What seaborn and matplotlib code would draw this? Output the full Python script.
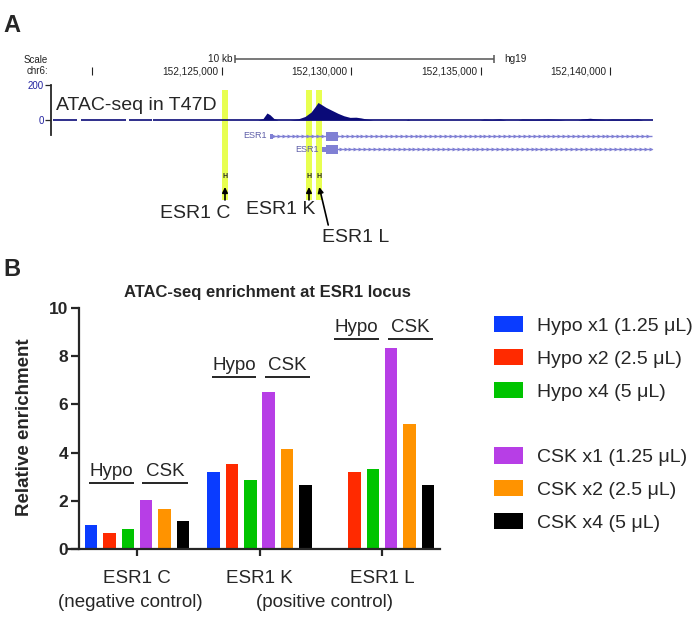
import numpy as np
import pandas as pd
import matplotlib
matplotlib.use("Agg")
import matplotlib.pyplot as plt
import seaborn as sns
from matplotlib.lines import Line2D

# ---------------- panel B data ----------------
sites = ["ESR1 C", "ESR1 K", "ESR1 L"]
conditions = ["Hypo x1 (1.25 \u03bcL)", "Hypo x2 (2.5 \u03bcL)", "Hypo x4 (5 \u03bcL)",
              "CSK x1 (1.25 \u03bcL)", "CSK x2 (2.5 \u03bcL)", "CSK x4 (5 \u03bcL)"]
hypo_x1 = [1.01, 3.18, 0.0]
hypo_x2 = [0.66, 3.53, 3.18]
hypo_x4 = [0.83, 2.85, 3.33]
csk_x1 = [2.02, 6.51, 8.34]
csk_x2 = [1.67, 4.16, 5.19]
csk_x4 = [1.18, 2.67, 2.67]
colors = ["#0a3cff", "#ff2a00", "#00c400", "#b73ee6", "#ff9300", "#000000"]
bracket_y = [2.74, 7.14, 8.71]
control_labels = ["(negative control)", "(positive control)"]

# ---------------- panel A data ----------------
chrom_ticks = [152120000, 152125000, 152130000, 152135000, 152140000]
chrom_tick_labels = ["", "152,125,000", "152,130,000", "152,135,000", "152,140,000"]
scale_start = 152125500
scale_len = 10000
atac_pos = [152126390, 152126583, 152126737, 152126853, 152127008, 152127162,
            152127625, 152127934, 152128205, 152128436, 152128591, 152128707,
            152128822, 152129015, 152129247, 152129479, 152129710, 152129942,
            152130173, 152130366, 152130560, 152130830,
            152132100, 152132180, 152132260,
            152134961, 152135116, 152135425, 152135734, 152135965,
            152136429, 152136583, 152137085, 152137587, 152138050, 152138243,
            152138745, 152138900, 152139208, 152139478, 152139826, 152140058,
            152140560, 152141062, 152141255]
atac_val = [0, 8, 40, 30, 8, 0,
            0, 6, 20, 45, 75, 100,
            90, 72, 55, 38, 24, 15,
            16, 12, 6, 0,
            0, 4, 0,
            0, 5, 3, 6, 0,
            0, 5, 4, 6, 3, 0,
            0, 6, 10, 6, 2, 5,
            4, 6, 0]
covered_start = [152118475, 152119556, 152121409, 152122336]
covered_end = [152119402, 152121293, 152122297, 152141641]
site_names = ["ESR1 C", "ESR1 K", "ESR1 L"]
site_start = [152125000, 152128243, 152128629]
site_end = [152125232, 152128475, 152128880]
gene_names = ["ESR1", "ESR1"]
tx_start = [152126853, 152128861]
tx_end = [152141600, 152141600]
utr_start = [152126853, 152128861]
utr_end = [152126970, 152129015]
cds_start = [152129015, 152129015]
cds_end = [152129479, 152129479]

W, H = 697, 624
sns.set_style("ticks")
plt.rcParams["font.family"] = ["Liberation Sans", "DejaVu Sans"]
fig = plt.figure(figsize=(W / 100, H / 100), dpi=100)

# genome axes: x = genomic position, y = pixel rows of the top panel
view_lo, view_hi = 152116429, 152143340
def gx(px):
    return view_lo + px / W * (view_hi - view_lo)

axg = fig.add_axes([0, 1 - 250 / H, 1, 250 / H])
axg.set_xlim(view_lo, view_hi)
axg.set_ylim(250, 0)
axg.axis("off")

fig.text(3 / W, 1 - 32 / H, "A", fontsize=17, fontweight="bold", va="baseline")
fig.text(48 / W, 1 - 60 / H, "Scale", fontsize=7, ha="right", va="center", color="#222222")
fig.text(48 / W, 1 - 71 / H, "chr6:", fontsize=7, ha="right", va="center", color="#222222")

axg.vlines(chrom_ticks, 67, 75, color="#222222", lw=0.8)
for t, lab in zip(chrom_ticks, chrom_tick_labels):
    axg.annotate(lab, (t, 71), xytext=(-4, 0), textcoords="offset pixels",
                 ha="right", va="center", fontsize=7.2, color="#222222")

scale_end = scale_start + scale_len
axg.hlines(59, scale_start, scale_end, color="#555555", lw=1.1)
axg.vlines([scale_start, scale_end], 55, 63, color="#555555", lw=1.1)
axg.annotate("10 kb", (scale_start, 59), xytext=(-2, 0), textcoords="offset pixels",
             ha="right", va="center", fontsize=7.2, color="#222222")
axg.annotate("hg19", (scale_end, 59), xytext=(10, 0), textcoords="offset pixels",
             ha="left", va="center", fontsize=7.2, color="#222222")

# highlighted sites
for s, e in zip(site_start, site_end):
    axg.bar(x=s, height=110, width=e - s, bottom=90, align="edge", color="#e8ff50", lw=0, zorder=1)
    c = (s + e) / 2
    axg.text(c, 176, "H", ha="center", va="center", fontsize=5, fontweight="bold", zorder=3)

cen = [(s + e) / 2 for s, e in zip(site_start, site_end)]
arrow = dict(arrowstyle="-|>", lw=1.2, color="black", mutation_scale=8, shrinkA=0, shrinkB=0)
axg.annotate("", xy=(cen[0], 187), xytext=(0, -13), textcoords="offset pixels", arrowprops=arrow)
axg.annotate("", xy=(cen[1], 187), xytext=(0, -13), textcoords="offset pixels", arrowprops=arrow)
axg.annotate("", xy=(cen[2], 187), xytext=(9, -38), textcoords="offset pixels", arrowprops=arrow)
axg.annotate(site_names[0], (cen[0], 214), xytext=(5, 0), textcoords="offset pixels",
             ha="right", va="center", fontsize=14)
axg.annotate(site_names[1], (cen[1], 210), xytext=(6, 0), textcoords="offset pixels",
             ha="right", va="center", fontsize=14)
axg.annotate(site_names[2], (cen[2], 238), xytext=(3, 0), textcoords="offset pixels",
             ha="left", va="center", fontsize=14)

# gene models
gene_col = "#8080d4"
for i, y in enumerate([136, 149]):
    axg.hlines(y, tx_start[i], tx_end[i], color=gene_col, lw=1, zorder=2)
    chev = np.arange(tx_start[i] + 150, tx_end[i], 190)
    axg.plot(chev, np.full(len(chev), y), ">", ms=2.8, color=gene_col, mew=0, zorder=2)
    axg.bar(x=utr_start[i], height=5, width=utr_end[i] - utr_start[i], bottom=y - 2.5,
            align="edge", color=gene_col, lw=0, zorder=3)
    axg.bar(x=cds_start[i], height=9, width=cds_end[i] - cds_start[i], bottom=y - 4.5,
            align="edge", color=gene_col, lw=0, zorder=3)
    axg.annotate(gene_names[i], (tx_start[i], y), xytext=(-3, 0), textcoords="offset pixels",
                 ha="right", va="center", fontsize=6.5, color="#5e5ea8")

# ATAC signal track
axs = fig.add_axes([51 / W, 1 - 120 / H, (653 - 51) / W, 35 / H])
axs.patch.set_alpha(0)
axs.set_xlim(gx(51), gx(653))
axs.set_ylim(0, 200)
axs.fill_between(atac_pos, 0, atac_val, color="#0a0a78", lw=0)
axs.hlines([0] * len(covered_start), covered_start, covered_end, color="#0a0a78",
           lw=1.2, clip_on=False)
for sp in ["top", "right", "bottom"]:
    axs.spines[sp].set_visible(False)
axs.spines["left"].set_bounds(-86, 200)
axs.spines["left"].set_linewidth(1.3)
axs.set_xticks([])
axs.set_yticks([0, 200])
axs.tick_params(axis="y", length=4.3, width=0.9, pad=1, labelsize=7, labelcolor="#2222a0")
fig.text(56 / W, 1 - 105 / H, "ATAC-seq in T47D", fontsize=14, va="center")

# ---------------- panel B ----------------
df = pd.DataFrame({"site": sites, conditions[0]: hypo_x1, conditions[1]: hypo_x2,
                   conditions[2]: hypo_x4, conditions[3]: csk_x1,
                   conditions[4]: csk_x2, conditions[5]: csk_x4})
long = df.melt(id_vars="site", var_name="condition", value_name="enrichment")

ax = fig.add_axes([68 / W, 1 - 549 / H, 372 / W, 241 / H])
sns.barplot(data=long, x="site", y="enrichment", hue="condition", order=sites,
            hue_order=conditions, palette=colors, width=0.9, gap=0.32,
            saturation=1, linewidth=0, ax=ax)
handles, labels = ax.get_legend_handles_labels()
ax.get_legend().remove()

ax.set_xlim(-0.563, 2.473)
ax.set_ylim(0, 10)
ax.set_yticks([0, 2, 4, 6, 8, 10])
sns.despine(ax=ax)
ax.spines["left"].set_position(("data", -0.473))
ax.spines["left"].set_linewidth(1.6)
ax.spines["bottom"].set_linewidth(1.6)
ax.tick_params(axis="y", length=6, width=1.6, labelsize=12.5, pad=2)
ax.tick_params(axis="x", length=5, width=1.6, labelsize=13.5, pad=10)
for lbl in ax.get_yticklabels():
    lbl.set_fontweight("bold")
ax.set_xlabel("")
ax.set_ylabel("Relative enrichment", fontsize=13.5, fontweight="bold")
ax.yaxis.set_label_coords(-0.094, 0.506)
ax.text(0.535, 1.046, "ATAC-seq enrichment at ESR1 locus", transform=ax.transAxes,
        ha="center", va="baseline", fontsize=12, fontweight="bold")

for i, y in enumerate(bracket_y):
    ax.hlines(y, i - 0.39, i - 0.025, color="black", lw=1.2)
    ax.hlines(y, i + 0.045, i + 0.415, color="black", lw=1.2)
    ax.text(i - 0.2075, y + 0.28, "Hypo", ha="center", va="baseline", fontsize=13.5)
    ax.text(i + 0.23, y + 0.28, "CSK", ha="center", va="baseline", fontsize=13.5)

ax.text(-0.057, -0.22, control_labels[0], transform=ax.get_xaxis_transform(),
        ha="center", va="center", fontsize=13.5)
ax.text(1.53, -0.22, control_labels[1], transform=ax.get_xaxis_transform(),
        ha="center", va="center", fontsize=13.5)

fig.text(3 / W, 1 - 276 / H, "B", fontsize=17, fontweight="bold", va="baseline")

blank = Line2D([], [], linestyle="none")
handles = handles[:3] + [blank] + handles[3:]
labels = labels[:3] + [" "] + labels[3:]
fig.legend(handles, labels, loc="center left", bbox_to_anchor=(494 / W, 1 - 424 / H),
           frameon=False, fontsize=14, handlelength=1.5, handleheight=0.9,
           handletextpad=0.72, labelspacing=0.72, borderpad=0, borderaxespad=0)

fig.savefig("out.png", dpi=100)
